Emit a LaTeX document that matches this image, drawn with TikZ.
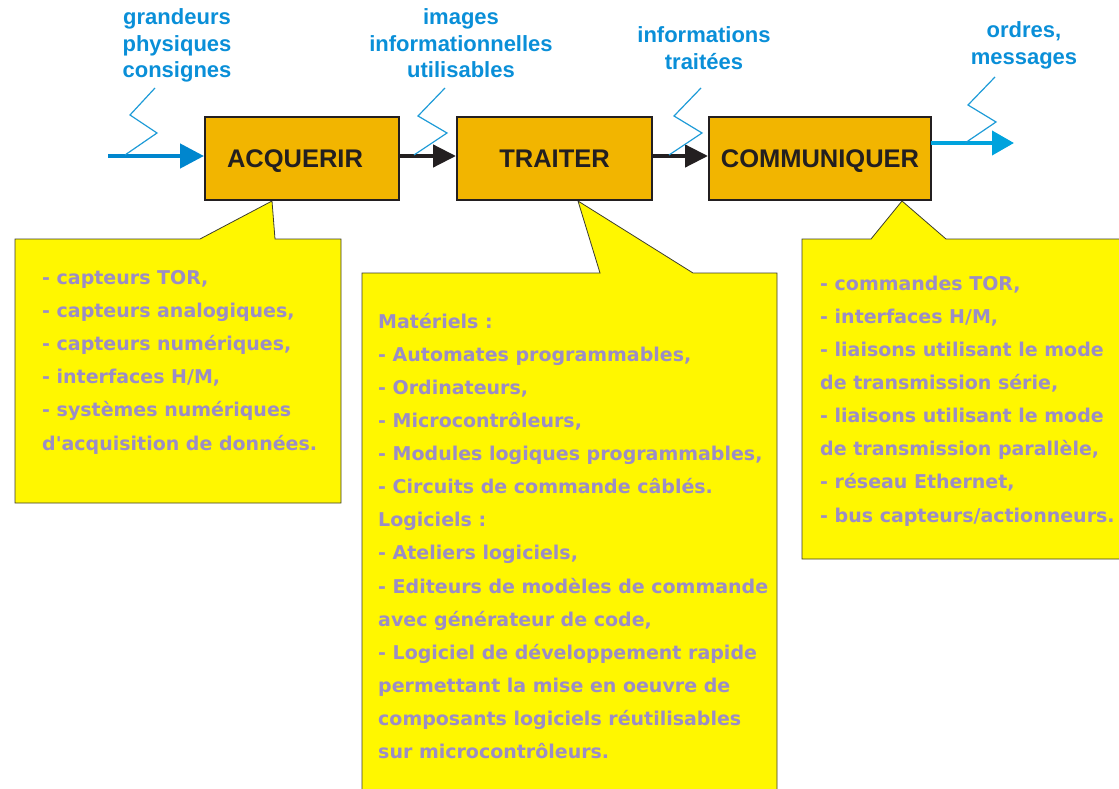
\documentclass[tikz,border=0pt]{standalone}
\usepackage{fontspec}
\setmainfont{Liberation Sans}
\newfontfamily\calloutfont{DejaVu Sans}
\usetikzlibrary{arrows.meta}
\definecolor{boxorange}{HTML}{F2B500}
\definecolor{boxline}{HTML}{231F20}
\definecolor{noteyellow}{HTML}{FFF700}
\definecolor{noteline}{HTML}{3C3C30}
\definecolor{notetext}{HTML}{9B8DC6}
\definecolor{labelblue}{HTML}{0A8FD8}
\definecolor{inblue}{HTML}{0086CE}
\definecolor{outblue}{HTML}{00A3DD}
\definecolor{zigblue}{HTML}{1E9BD7}
\tikzset{
  procbox/.style={draw=boxline, line width=2pt, fill=boxorange, inner sep=0pt,
    text height=18.3pt, text depth=0pt,
    minimum height=83pt, font=\fontsize{25.5}{28}\selectfont\bfseries, text=boxline},
  flowlabel/.style={text=labelblue, align=center, inner sep=0pt,
    font=\fontsize{22}{26.5}\selectfont\bfseries, anchor=base},
  blackflow/.style={draw=boxline, line width=4.5pt, -{Triangle[length=23pt,width=22pt]}},
  inflow/.style={draw=inblue, line width=4.5pt, -{Triangle[length=24pt,width=24pt]}},
  outflow/.style={draw=outblue, line width=4pt, -{Triangle[length=22pt,width=24pt]}},
  zig/.style={draw=zigblue, line width=1.2pt},
  note/.style={fill=noteyellow, draw=noteline, line width=0.8pt, line join=miter},
  noteedge/.style={draw=noteline, line width=0.8pt},
  notetxt/.style={text=notetext, align=left, inner sep=0pt, anchor=base west,
    font=\calloutfont\bfseries\fontsize{19}{33.1}\selectfont},
}
\begin{document}
\begin{tikzpicture}[x=1pt,y=-1pt]
\useasboundingbox (0,0) rectangle (1119,789);

% callouts (drawn first, under the boxes)
\filldraw[note] (15,239) -- (200,239) -- (272,201) -- (275,239) -- (341,239)
  -- (341,503) -- (15,503) -- cycle;
\fill[noteyellow] (362,273) -- (600,273) -- (578,201) -- (693,273) -- (777,273)
  -- (777,789) -- (362,789) -- cycle;
\draw[noteedge] (362,789) -- (362,273) -- (600,273) -- (578,201) -- (693,273)
  -- (777,273) -- (777,789);
\fill[noteyellow] (802,239) -- (871,239) -- (902,201) -- (946,239) -- (1119,239)
  -- (1119,559) -- (802,559) -- cycle;
\draw[noteedge] (1119,239) -- (946,239) -- (902,201) -- (871,239) -- (802,239)
  -- (802,559) -- (1119,559);

% process boxes
\node[procbox, minimum width=194pt] (acq) at (302,158.5) {ACQUERIR\hspace*{14pt}};
\node[procbox, minimum width=195pt] (tra) at (554.5,158.5) {TRAITER};
\node[procbox, minimum width=222pt] (com) at (820,158.5) {COMMUNIQUER};

% flows
\coordinate (inS) at (108,156);
\coordinate (outS) at (931,143);
\coordinate (outE) at (1014,143);
\draw[inflow] (inS) -- (acq.west |- inS);
\draw[blackflow] (acq.east |- inS) -- (tra.west |- inS);
\draw[blackflow] (tra.east |- inS) -- (com.west |- inS);
\draw[outflow] (outS) -- (outE);

% zigzags
\draw[zig] (155,88) -- (130,115) -- (157,133) -- (125,155);
\draw[zig] (445,88) -- (418,116) -- (447,133) -- (414,155);
\draw[zig] (701,88) -- (674,116) -- (702,133) -- (669,155);
\draw[zig] (995,77) -- (968,105) -- (996,122) -- (965,143);

% flow labels (anchor base = baseline of the last line)
\node[flowlabel] (l1) at (177,78) {grandeurs\\physiques\\consignes};
\node[flowlabel] (l2) at (461,78) {images\\informationnelles\\utilisables};
\node[flowlabel] (l3) at (704,69.5) {informations\\traitées};
\node[flowlabel] (l4) at (1024,64.5) {ordres,\\messages};

% callout texts (anchor base west = baseline of the last line)
\node[notetxt] (n1) at (42,450) {- capteurs TOR,\\- capteurs analogiques,\\- capteurs numériques,\\- interfaces H/M,\\- systèmes numériques\\d'acquisition de données.};
\node[notetxt] (n2) at (378,758.5) {Matériels :\\- Automates programmables,\\- Ordinateurs,\\- Microcontrôleurs,\\- Modules logiques programmables,\\- Circuits de commande câblés.\\Logiciels :\\- Ateliers logiciels,\\- Editeurs de modèles de commande\\avec générateur de code,\\- Logiciel de développement rapide\\permettant la mise en oeuvre de\\composants logiciels réutilisables\\sur microcontrôleurs.};
\node[notetxt] (n3) at (820,522) {- commandes TOR,\\- interfaces H/M,\\- liaisons utilisant le mode\\de transmission série,\\- liaisons utilisant le mode\\de transmission parallèle,\\- réseau Ethernet,\\- bus capteurs/actionneurs.};
\end{tikzpicture}
\end{document}
